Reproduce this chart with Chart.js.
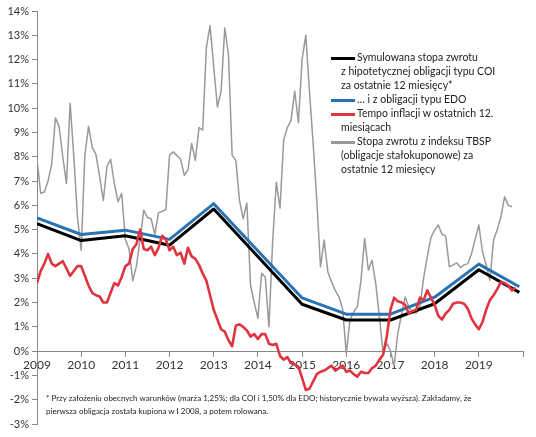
<!DOCTYPE html>
<html>
<head>
<meta charset="utf-8">
<script src="https://cdn.jsdelivr.net/npm/chart.js@4.4.0/dist/chart.umd.min.js"></script>
<style>
body { margin: 0; background: #fff; }
#wrap { position: relative; width: 536px; height: 437px; }
#legend { position: absolute; left: 331px; top: 50px; font-family: Lato, sans-serif; font-size: 10.5px; line-height: 14px; color: #222; }
#legend div { padding-left: 10px; text-indent: -10px; }
#legend span.sw { display: inline-block; width: 24px; height: 3px; vertical-align: middle; margin-right: 2px; text-indent: 0; }
#note { position: absolute; left: 46px; top: 392px; width: 470px; font-family: Lato, sans-serif; font-size: 8px; line-height: 12.5px; color: #222; }
</style>
</head>
<body>
<div id="wrap">
  <canvas id="lineChart" width="536" height="437"></canvas>
  <div id="legend"></div>
  <div id="note">* Przy założeniu obecnych warunków (marża 1,25%; dla COI i 1,50% dla EDO; historycznie bywała wyższa). Zakładamy, że<br>pierwsza obligacja została kupiona w I 2008, a potem rolowana.</div>
</div>
<script>
// Etykiety osi X (styczeń każdego roku)
var yearLabels = ['2009', '2010', '2011', '2012', '2013', '2014', '2015', '2016', '2017', '2018', '2019'];

// Obligacje COI i EDO - punkty załamania (numer miesiąca od I 2009)
var knotMonths = [0, 12, 24, 36, 48, 72, 84, 96, 108, 120, 131];
var coiValues = [5.25, 4.55, 4.75, 4.36, 5.85, 1.93, 1.28, 1.28, 1.95, 3.35, 2.42];
var edoValues = [5.48, 4.80, 4.98, 4.60, 6.07, 2.19, 1.52, 1.52, 2.22, 3.58, 2.65];

// Inflacja r/r, miesięcznie od I 2009
var inflation = [
    2.8, 3.3, 3.6, 4.0, 3.6, 3.5, 3.6, 3.7, 3.4, 3.1, 3.3, 3.5,
    3.5, 3.1, 2.7, 2.4, 2.3, 2.25, 2.0, 2.0, 2.4, 2.8, 2.7, 3.05,
    3.5, 3.6, 4.2, 4.4, 5.0, 4.2, 4.15, 4.3, 3.95, 4.25, 4.75, 4.6,
    4.15, 4.3, 3.95, 4.05, 3.6, 4.25, 3.9, 3.8, 3.55, 3.2, 2.9, 2.3,
    1.7, 1.3, 0.9, 0.8, 0.45, 0.2, 1.05, 1.1, 1.0, 0.85, 0.6, 0.7,
    0.5, 0.7, 0.7, 0.3, 0.25, 0.3, -0.2, -0.35, -0.25, -0.5, -0.55, -0.65,
    -1.1, -1.6, -1.55, -1.25, -0.95, -0.85, -0.8, -0.7, -0.6, -0.8, -0.7, -0.6,
    -0.85, -0.8, -0.95, -1.05, -0.85, -0.9, -0.9, -0.7, -0.6, -0.35, -0.15, 0.6,
    1.7, 2.2, 2.05, 2.0, 1.9, 1.55, 1.65, 1.7, 2.2, 2.1, 2.5, 2.2,
    1.9, 1.45, 1.3, 1.55, 1.7, 1.95, 2.0, 2.0, 1.95, 1.75, 1.35, 1.1,
    0.9, 1.2, 1.7, 2.1, 2.3, 2.55, 2.85, 2.8, 2.7, 2.5, 2.6
];

// Stopa zwrotu z indeksu TBSP za 12 miesięcy
var tbsp = [
    7.9, 6.5, 6.55, 7.0, 7.7, 9.6, 9.25, 8.0, 6.9, 10.2, 8.0, 5.5,
    4.15, 8.07, 9.25, 8.4, 8.1, 7.2, 6.2, 7.6, 7.9, 6.9, 6.15, 6.5,
    4.6, 4.2, 2.9, 3.5, 4.6, 5.8, 5.5, 5.45, 4.8, 5.7, 5.75, 5.83,
    8.07, 8.2, 8.05, 7.9, 7.24, 7.45, 8.55, 7.85, 9.2, 9.1, 12.5, 13.4,
    11.7, 10.05, 10.7, 13.3, 12.2, 8.07, 7.85, 6.2, 5.45, 6.1, 2.7, 2.0,
    1.35, 3.2, 3.05, 1.0, 4.5, 6.95, 5.88, 8.7, 9.2, 9.5, 10.7, 9.4,
    12.0, 13.0, 10.7, 8.55, 6.2, 3.47, 4.57, 3.26, 2.85, 2.5, 2.23, 1.75,
    -0.1, 1.28, 1.6, 1.82, 2.92, 4.64, 3.33, 3.74, 2.78, 1.41, -0.1, 0.33,
    0.0, -0.6, 0.74, 1.5, 2.23, 1.8, 1.6, 1.56, 1.82, 3.0, 3.88, 4.68,
    4.98, 5.19, 4.81, 4.73, 3.47, 3.55, 3.63, 3.44, 3.55, 3.6, 4.0, 4.6,
    5.19, 4.09, 3.54, 2.92, 4.57, 5.0, 5.53, 6.35, 6.0, 5.94
];

var legendItems = [
    { color: '#000000', lines: ['Symulowana stopa zwrotu', 'z hipotetycznej obligacji typu COI', 'za ostatnie 12 miesięcy*'] },
    { color: '#2a73b3', lines: ['… i z obligacji typu EDO'] },
    { color: '#e03440', lines: ['Tempo  inflacji w ostatnich 12.', 'miesiącach'] },
    { color: '#999999', lines: ['Stopa zwrotu z indeksu TBSP', '(obligacje stałokuponowe) za', 'ostatnie 12 miesięcy'] }
];

function toPoints(xs, ys) {
    return ys.map(function(v, i) { return { x: xs ? xs[i] : i, y: v }; });
}

function buildLegend() {
    var box = document.getElementById('legend');
    legendItems.forEach(function(item) {
        var div = document.createElement('div');
        div.innerHTML = '<span class="sw" style="background:' + item.color + '"></span>' + item.lines.join('<br>');
        box.appendChild(div);
    });
}

function createChart() {
    var ctx = document.getElementById('lineChart').getContext('2d');
    Chart.defaults.font.family = 'Lato, sans-serif';
    Chart.defaults.color = '#333';
    new Chart(ctx, {
        type: 'line',
        data: {
            datasets: [{
                label: 'Tempo inflacji',
                data: toPoints(null, inflation),
                borderColor: '#e03440',
                borderWidth: 2.6
            }, {
                label: 'EDO',
                data: toPoints(knotMonths, edoValues),
                borderColor: '#2a73b3',
                borderWidth: 3
            }, {
                label: 'COI',
                data: toPoints(knotMonths, coiValues),
                borderColor: '#000000',
                borderWidth: 3
            }, {
                label: 'TBSP',
                data: toPoints(null, tbsp),
                borderColor: '#999999',
                borderWidth: 1.5
            }]
        },
        options: {
            responsive: false,
            animation: false,
            parsing: false,
            elements: { point: { radius: 0 }, line: { tension: 0, borderJoinStyle: 'round' } },
            layout: { padding: { left: 0, right: 13, top: 11, bottom: 13 } },
            plugins: { legend: { display: false }, tooltip: { enabled: false } },
            scales: {
                x: {
                    type: 'linear',
                    min: 0,
                    max: 132,
                    position: { y: 0 },
                    grid: { drawOnChartArea: false, tickLength: 5, color: '#888' },
                    border: { color: '#888' },
                    ticks: {
                        stepSize: 12,
                        autoSkip: false,
                        maxRotation: 0,
                        padding: 2,
                        font: { size: 12 },
                        callback: function(v) { return yearLabels[v / 12] || ''; }
                    },
                    afterFit: function(scale) { scale.height = 0; }
                },
                y: {
                    min: -3,
                    max: 14,
                    grid: { drawOnChartArea: false, tickLength: 5, color: '#888' },
                    border: { color: '#888' },
                    ticks: {
                        stepSize: 1,
                        padding: 3,
                        font: { size: 11 },
                        callback: function(v) { return v + '%'; }
                    },
                    afterFit: function(scale) { scale.width = 37; }
                }
            }
        }
    });
}

buildLegend();
createChart();
</script>
</body>
</html>
